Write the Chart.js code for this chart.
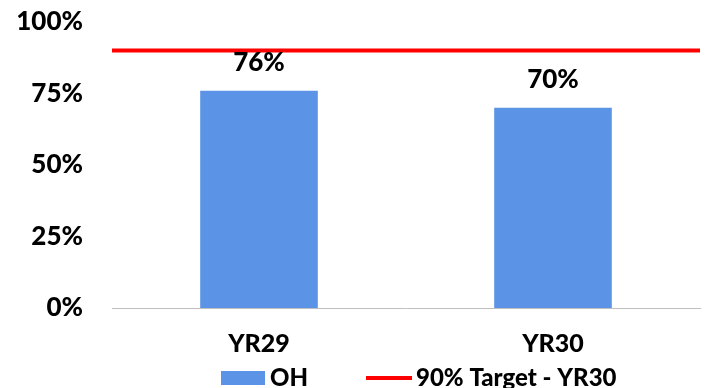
<!DOCTYPE html>
<html>
<head>
<meta charset="utf-8">
<script src="https://cdn.jsdelivr.net/npm/chart.js@4.4.1/dist/chart.umd.min.js"></script>
<style>
  html, body { margin: 0; padding: 0; background: #ffffff; }
  #wrap { width: 708px; height: 388px; }
</style>
</head>
<body>
<div id="wrap"><canvas id="ohChart"></canvas></div>
<script>
const categories = ["YR29", "YR30"];
const ohValues = [76, 70];
const targetValue = 90;
const yTicks = [0, 25, 50, 75, 100];

const barLabels = {
  id: "barLabels",
  afterDatasetsDraw(chart) {
    const ctx = chart.ctx;
    const meta = chart.getDatasetMeta(0);
    ctx.save();
    ctx.font = "900 26px Lato";
    ctx.fillStyle = "#000000";
    ctx.textAlign = "center";
    ctx.textBaseline = "middle";
    meta.data.forEach((bar, i) => {
      ctx.fillText(ohValues[i] + "%", bar.x, bar.y - 28);
    });
    ctx.restore();
  }
};

// legend drawn by hand so the spacing can follow the original
const bottomLegend = {
  id: "bottomLegend",
  afterDraw(chart) {
    const ctx = chart.ctx;
    const y = 378;
    let x = 221;
    ctx.save();
    ctx.font = "900 24px Lato";
    ctx.textBaseline = "middle";
    ctx.textAlign = "left";
    chart.data.datasets.forEach((ds, i) => {
      if (ds.type === "bar") {
        ctx.fillStyle = ds.backgroundColor;
        ctx.fillRect(x, y - 7, 44, 14);
        x += 49;
      } else {
        ctx.strokeStyle = ds.borderColor;
        ctx.lineWidth = ds.borderWidth;
        ctx.beginPath();
        ctx.moveTo(x, y);
        ctx.lineTo(x + 46, y);
        ctx.stroke();
        x += 50;
      }
      ctx.fillStyle = "#000000";
      ctx.fillText(ds.label, x, y);
      x += ctx.measureText(ds.label).width + 58;
    });
    ctx.restore();
  }
};

const chart = new Chart(document.getElementById("ohChart"), {
  data: {
    labels: categories,
    datasets: [
      {
        type: "bar",
        label: "OH",
        data: ohValues,
        backgroundColor: "#5b93e6",
        borderWidth: 0,
        grouped: false,
        barPercentage: 0.4,
        categoryPercentage: 1,
        order: 2
      },
      {
        type: "line",
        label: "90% Target - YR30",
        data: [{ x: 0, y: targetValue }, { x: 1, y: targetValue }],
        xAxisID: "x2",
        borderColor: "#ff0000",
        backgroundColor: "#ff0000",
        borderWidth: 4,
        pointRadius: 0,
        order: 1
      }
    ]
  },
  options: {
    responsive: true,
    maintainAspectRatio: false,
    animation: false,
    layout: { padding: { left: 0, right: 8, top: 22, bottom: 0 } },
    scales: {
      x: {
        grid: { display: false },
        border: { display: true, color: "#bfbfbf", width: 1 },
        afterFit(scale) { scale.height = 80; },
        ticks: { color: "#000000", font: { family: "Lato", size: 25, weight: "900" }, padding: 13 }
      },
      x2: {
        type: "linear",
        display: false,
        min: 0,
        max: 1
      },
      y: {
        min: 0,
        max: 100,
        grid: { display: false },
        border: { display: false },
        afterFit(scale) {
          scale.width = 112;
          scale.paddingTop = 0;
          scale.paddingBottom = 0;
        },
        afterBuildTicks(scale) { scale.ticks = yTicks.map(v => ({ value: v })); },
        ticks: {
          color: "#000000",
          font: { family: "Lato", size: 26, weight: "900" },
          padding: 21,
          callback: v => v + "%"
        }
      }
    },
    plugins: {
      legend: { display: false },
      tooltip: { enabled: false }
    }
  },
  plugins: [barLabels, bottomLegend]
});
</script>
</body>
</html>
